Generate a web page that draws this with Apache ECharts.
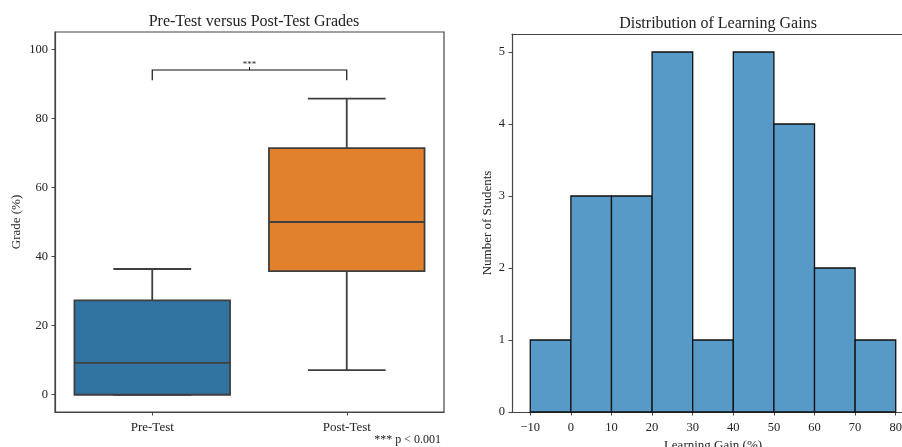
<!DOCTYPE html>
<html>
<head>
<meta charset="utf-8">
<script src="https://cdn.jsdelivr.net/npm/echarts@6/dist/echarts.min.js"></script>
<style>html,body{margin:0;padding:0;background:#fff}#c{width:902px;height:447px}</style>
</head>
<body>
<div id="c"></div>
<script>
// ---- data ----
var categories = ['Pre-Test', 'Post-Test'];
// [min, Q1, median, Q3, max]
var preTest = [0, 0, 9.2, 27.3, 36.4];
var postTest = [7.1, 35.8, 50.0, 71.4, 85.7];
var boxColors = ['#3274a1', '#e1812c'];
var gradeTicks = [0, 20, 40, 60, 80, 100];
var binEdges = [-10, 0, 10, 20, 30, 40, 50, 60, 70, 80];
var binCounts = [1, 3, 3, 5, 1, 5, 4, 2, 1];
var gainTicks = [-10, 0, 10, 20, 30, 40, 50, 60, 70, 80];
var countTicks = [0, 1, 2, 3, 4, 5];
// significance bracket: [fromCat, toCat, lowY, highY]
var bracket = [0, 1, 91, 94];

var FONT = 'Liberation Serif';
var SPINE = '#444';
var LINE = '#3f3f3f';

var boxData = [preTest, postTest].map(function (d, i) { return [i].concat(d); });
var histData = binCounts.map(function (n, i) { return [binEdges[i], binEdges[i + 1], n]; });

var chart = echarts.init(document.getElementById('c'), null, { renderer: 'canvas' });

function axisCommon() {
  return {
    axisLine: { show: true, onZero: false, lineStyle: { color: SPINE, width: 1.2 } },
    axisTick: { show: true, inside: false, length: 3.5, lineStyle: { color: SPINE, width: 1 } },
    splitLine: { show: false },
    axisLabel: { color: '#222', fontFamily: FONT, fontSize: 12.5, margin: 7 },
    nameTextStyle: { color: '#222', fontFamily: FONT, fontSize: 13 }
  };
}

var yLeft = echarts.util.merge(axisCommon(), {
  type: 'value', gridIndex: 0, min: -5, max: 105,
  name: 'Grade (%)', nameLocation: 'middle', nameGap: 32, nameRotate: 90,
  axisTick: { customValues: gradeTicks },
  axisLabel: { customValues: gradeTicks }
}, true);

var xLeft = echarts.util.merge(axisCommon(), {
  type: 'category', gridIndex: 0, data: categories, boundaryGap: true,
  axisTick: { alignWithLabel: true },
  axisLabel: { margin: 9, fontSize: 13 }
}, true);

var xRight = echarts.util.merge(axisCommon(), {
  type: 'value', gridIndex: 1, min: -14.5, max: 84.5,
  name: 'Learning Gain (%)', nameLocation: 'middle', nameGap: 26,
  axisTick: { customValues: gainTicks },
  axisLabel: { customValues: gainTicks, margin: 9, formatter: function (v) { return String(v).replace('-', '\u2212'); } }
}, true);

// top spine of the right panel (its right spine falls outside the picture)
var xRightTop = {
  type: 'value', gridIndex: 1, position: 'top', min: -14.5, max: 84.5,
  axisLine: { show: true, onZero: false, lineStyle: { color: SPINE, width: 1.2 } },
  axisTick: { show: false }, axisLabel: { show: false }, splitLine: { show: false }
};

var yRight = echarts.util.merge(axisCommon(), {
  type: 'value', gridIndex: 1, min: 0, max: 5.25,
  name: 'Number of Students', nameLocation: 'middle', nameGap: 18, nameRotate: 90,
  axisTick: { customValues: countTicks },
  axisLabel: { customValues: countTicks }
}, true);

var option = {
  animation: false,
  backgroundColor: '#fff',
  title: [
    { text: 'Pre-Test versus Post-Test Grades', left: 249, top: 9, textAlign: 'center',
      textStyle: { fontFamily: FONT, fontSize: 16, fontWeight: 'normal', color: '#222' } },
    { text: 'Distribution of Learning Gains', left: 713, top: 11, textAlign: 'center',
      textStyle: { fontFamily: FONT, fontSize: 16, fontWeight: 'normal', color: '#222' } }
  ],
  grid: [
    { left: 55, top: 32, right: 458, bottom: 35, show: true, borderColor: SPINE, borderWidth: 1.2,
      containLabel: false, outerBoundsMode: 'none' },
    { left: 512, top: 34, right: -12, bottom: 35, show: false, containLabel: false, outerBoundsMode: 'none' }
  ],
  xAxis: [xLeft, xRight, xRightTop],
  yAxis: [yLeft, yRight],
  graphic: [
    { type: 'text', right: 461, top: 434,
      style: { text: '*** p < 0.001', fontFamily: FONT, fontSize: 12, fill: '#222', textAlign: 'right' } }
  ],
  series: [
    {
      type: 'custom', xAxisIndex: 0, yAxisIndex: 0, data: boxData,
      renderItem: function (params, api) {
        var x = api.value(0);
        var band = api.size([1, 0])[0];
        var pmin = api.coord([x, api.value(1)]);
        var pq1 = api.coord([x, api.value(2)]);
        var pmed = api.coord([x, api.value(3)]);
        var pq3 = api.coord([x, api.value(4)]);
        var pmax = api.coord([x, api.value(5)]);
        var cx = pmed[0];
        var hw = band * 0.4, cw = band * 0.2;
        var ls = { stroke: LINE, lineWidth: 1.8 };
        return {
          type: 'group',
          children: [
            { type: 'line', shape: { x1: cx, y1: pq3[1], x2: cx, y2: pmax[1] }, style: ls },
            { type: 'line', shape: { x1: cx, y1: pq1[1], x2: cx, y2: pmin[1] }, style: ls },
            { type: 'line', shape: { x1: cx - cw, y1: pmax[1], x2: cx + cw, y2: pmax[1] }, style: ls },
            { type: 'line', shape: { x1: cx - cw, y1: pmin[1], x2: cx + cw, y2: pmin[1] }, style: ls },
            { type: 'rect', shape: { x: cx - hw, y: pq3[1], width: 2 * hw, height: pq1[1] - pq3[1] },
              style: { fill: boxColors[params.dataIndex], stroke: LINE, lineWidth: 1.8 } },
            { type: 'line', shape: { x1: cx - hw, y1: pmed[1], x2: cx + hw, y2: pmed[1] }, style: ls }
          ]
        };
      }
    },
    {
      type: 'custom', xAxisIndex: 0, yAxisIndex: 0, data: [bracket],
      renderItem: function (params, api) {
        var a = api.coord([api.value(0), api.value(2)]);
        var b = api.coord([api.value(0), api.value(3)]);
        var c = api.coord([api.value(1), api.value(3)]);
        var d = api.coord([api.value(1), api.value(2)]);
        var mid = (a[0] + c[0]) / 2;
        return {
          type: 'group',
          children: [
            { type: 'polyline', shape: { points: [a, b, c, d] }, style: { stroke: '#111', lineWidth: 1.2, fill: null } },
            { type: 'line', shape: { x1: mid, y1: b[1], x2: mid, y2: b[1] - 3 }, style: { stroke: '#111', lineWidth: 1 } },
            { type: 'text', x: mid, y: b[1] - 1,
              style: { text: '***', fontFamily: FONT, fontSize: 9, fill: '#222', textAlign: 'center', textVerticalAlign: 'bottom' } }
          ]
        };
      }
    },
    {
      type: 'custom', xAxisIndex: 1, yAxisIndex: 1, data: histData,
      renderItem: function (params, api) {
        var tl = api.coord([api.value(0), api.value(2)]);
        var br = api.coord([api.value(1), 0]);
        return {
          type: 'rect',
          shape: { x: tl[0], y: tl[1], width: br[0] - tl[0], height: br[1] - tl[1] },
          style: { fill: '#5799c7', stroke: '#111', lineWidth: 1.3 }
        };
      }
    }
  ]
};
chart.setOption(option);
</script>
</body>
</html>
